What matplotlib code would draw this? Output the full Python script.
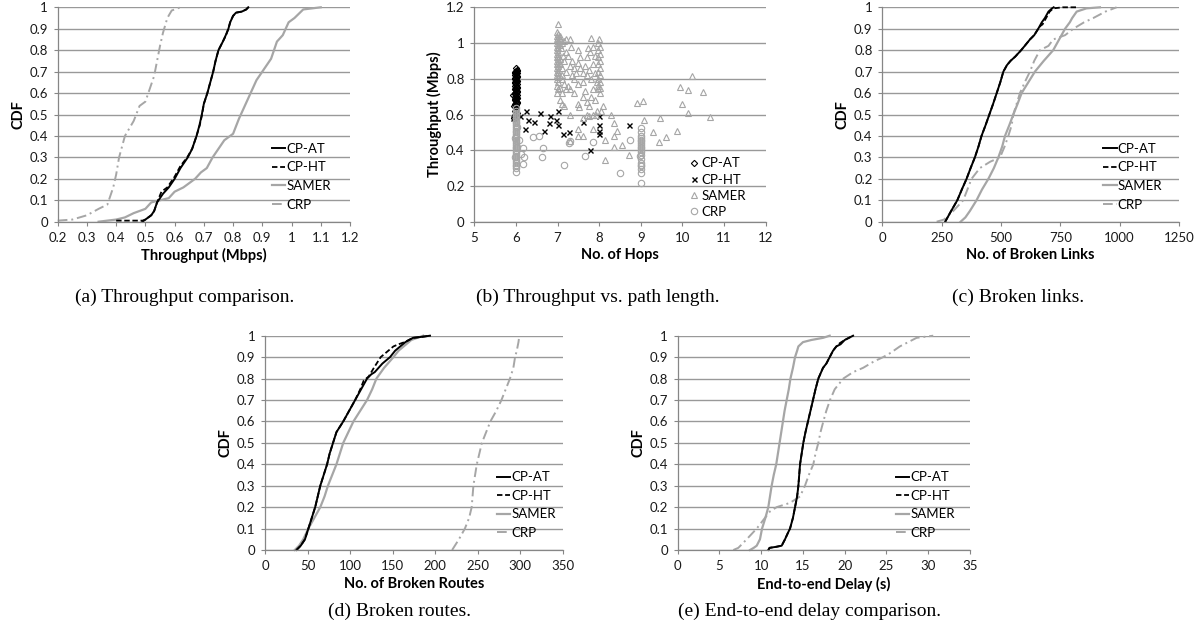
import matplotlib
matplotlib.use("Agg")
import matplotlib.pyplot as plt

BLACK = "black"
GRAY = "#a6a6a6"
GRID = "#999999"
AXIS = "#868686"

plt.rcParams['font.family'] = ['Lato', 'DejaVu Sans']

# ---- (a) throughput CDF ----
thr_at_x = [0.49, 0.50, 0.51, 0.52, 0.53, 0.54, 0.56, 0.58, 0.60, 0.62, 0.645, 0.66, 0.675, 0.685,
            0.693, 0.70, 0.712, 0.722, 0.732, 0.74, 0.75, 0.765, 0.775, 0.784, 0.79, 0.80, 0.81, 0.83,
            0.845, 0.852]
thr_at_y = [0, 0.01, 0.02, 0.03, 0.05, 0.09, 0.13, 0.16, 0.2, 0.25, 0.3, 0.34, 0.4, 0.45, 0.5, 0.55,
            0.6, 0.65, 0.7, 0.75, 0.8, 0.84, 0.87, 0.9, 0.93, 0.96, 0.975, 0.98, 0.99, 1.0]
thr_ht_x = [0.40, 0.45, 0.49, 0.50, 0.51, 0.52, 0.53, 0.54, 0.555, 0.575, 0.60, 0.62, 0.643, 0.66,
            0.675, 0.686, 0.694, 0.70, 0.712, 0.722, 0.732, 0.74, 0.75, 0.765, 0.776, 0.784, 0.79, 0.80,
            0.81, 0.83, 0.845, 0.852]
thr_ht_y = [0.005, 0.005, 0.005, 0.01, 0.02, 0.03, 0.05, 0.09, 0.14, 0.16, 0.21, 0.26, 0.3, 0.34,
            0.4, 0.45, 0.5, 0.55, 0.6, 0.65, 0.7, 0.75, 0.8, 0.84, 0.87, 0.9, 0.93, 0.96, 0.975, 0.98,
            0.99, 1.0]
thr_samer_x = [0.34, 0.40, 0.43, 0.46, 0.48, 0.50, 0.52, 0.55, 0.58, 0.60, 0.63, 0.67, 0.69, 0.71,
               0.73, 0.75, 0.77, 0.80, 0.82, 0.84, 0.86, 0.88, 0.90, 0.93, 0.95, 0.97, 0.99, 1.01,
               1.04, 1.10]
thr_samer_y = [0, 0.01, 0.02, 0.04, 0.05, 0.06, 0.09, 0.1, 0.11, 0.14, 0.16, 0.2, 0.23, 0.25, 0.3,
               0.34, 0.38, 0.41, 0.48, 0.54, 0.6, 0.66, 0.7, 0.76, 0.84, 0.87, 0.93, 0.95, 0.99, 1.0]
thr_crp_x = [0.20, 0.25, 0.30, 0.34, 0.37, 0.38, 0.39, 0.40, 0.41, 0.43, 0.46, 0.48, 0.50, 0.51,
             0.53, 0.54, 0.55, 0.56, 0.575, 0.59, 0.62]
thr_crp_y = [0.005, 0.01, 0.03, 0.06, 0.08, 0.12, 0.16, 0.22, 0.3, 0.4, 0.47, 0.54, 0.56, 0.6,
             0.68, 0.75, 0.82, 0.88, 0.95, 0.985, 1.0]

# ---- (b) throughput vs hops (scatter) ----
hop_at = [(5.92, 0.71), (5.95, 0.65), (5.96, 0.58), (5.97, 0.62), (6.0, 0.63), (6.0, 0.64),
          (5.98, 0.66), (6.02, 0.67), (5.98, 0.68), (6.02, 0.69), (5.98, 0.70), (6.02, 0.71),
          (5.98, 0.72), (6.02, 0.73), (5.98, 0.74), (6.02, 0.75), (5.98, 0.76), (6.02, 0.77),
          (5.98, 0.78), (6.02, 0.79), (5.98, 0.80), (6.02, 0.81), (5.98, 0.82), (6.02, 0.83),
          (5.98, 0.84), (6.02, 0.85), (6.0, 0.86), (6.0, 0.845), (6.0, 0.835), (6.0, 0.825),
          (6.0, 0.815), (6.0, 0.805), (6.0, 0.795), (6.0, 0.785), (6.0, 0.775), (6.0, 0.765),
          (6.0, 0.755), (6.0, 0.745), (6.0, 0.735), (6.0, 0.725), (6.0, 0.715), (6.0, 0.705),
          (6.0, 0.695), (6.0, 0.685), (6.0, 0.675), (6.0, 0.665), (6.0, 0.655), (6.02, 0.61),
          (5.98, 0.60), (6.03, 0.845), (5.97, 0.835), (6.03, 0.815), (5.97, 0.805),
          (6.03, 0.785), (5.97, 0.775), (6.03, 0.755), (5.97, 0.745), (6.03, 0.725),
          (5.97, 0.715), (6.03, 0.695), (5.97, 0.685), (6.03, 0.665), (5.97, 0.655)]
hop_ht = [(5.94, 0.58), (6.1, 0.59), (6.24, 0.62), (6.28, 0.57), (6.22, 0.52), (6.43, 0.56),
          (6.57, 0.61), (6.67, 0.51), (6.8, 0.55), (6.83, 0.59), (6.96, 0.57), (7.0, 0.62),
          (7.02, 0.54), (7.14, 0.49), (7.27, 0.5), (7.6, 0.56), (7.78, 0.4), (8.0, 0.59),
          (8.0, 0.54), (8.0, 0.51), (8.0, 0.49), (8.72, 0.54)]
hop_samer = [(7.0, 1.105), (6.98, 1.06), (7.02, 1.05), (6.98, 1.04), (7.02, 1.03), (6.98, 1.02),
             (7.02, 1.01), (6.98, 1.0), (7.02, 0.99), (6.98, 0.98), (7.02, 0.97), (6.98, 0.96),
             (7.02, 0.95), (6.98, 0.94), (7.02, 0.93), (6.98, 0.92), (7.02, 0.91), (6.98, 0.9),
             (7.02, 0.89), (6.98, 0.88), (7.02, 0.87), (6.98, 0.86), (7.02, 0.85), (6.98, 0.84),
             (7.02, 0.83), (6.98, 0.82), (7.02, 0.81), (6.98, 0.8), (7.02, 0.78), (6.98, 0.76),
             (7.02, 0.74), (6.98, 0.72), (7.05, 1.04), (7.06, 1.02), (7.05, 0.99), (7.07, 0.91),
             (8.0, 1.02), (7.98, 1.0), (8.02, 0.98), (7.98, 0.96), (8.02, 0.94), (7.98, 0.92),
             (8.02, 0.9), (7.98, 0.88), (8.02, 0.86), (7.98, 0.84), (8.02, 0.82), (7.98, 0.8),
             (8.02, 0.78), (7.98, 0.76), (8.02, 0.75), (7.98, 0.74), (8.02, 0.72),
             (7.2, 1.02), (7.3, 1.02), (7.32, 0.98), (7.25, 0.93), (7.15, 0.9), (7.35, 0.9),
             (7.3, 0.87), (7.4, 0.86), (7.2, 0.84), (7.1, 0.82), (7.35, 0.82), (7.4, 0.8),
             (7.5, 0.96), (7.55, 0.92), (7.5, 0.89), (7.55, 0.86), (7.45, 0.83), (7.6, 0.83),
             (7.65, 0.87), (7.7, 0.92), (7.72, 0.97), (7.8, 1.03), (7.78, 0.95), (7.85, 0.98),
             (7.9, 0.93), (7.85, 0.88), (7.75, 0.85), (7.7, 0.82), (7.8, 0.8), (7.9, 0.83),
             (7.95, 0.78), (7.6, 0.78), (7.5, 0.77), (7.4, 0.72), (7.3, 0.74), (7.2, 0.74),
             (7.25, 0.76), (7.15, 0.77), (7.1, 0.72), (7.05, 0.68), (7.1, 0.66), (7.15, 0.65),
             (7.5, 0.66), (7.52, 0.64), (7.6, 0.7), (7.65, 0.73), (7.7, 0.67), (7.75, 0.65),
             (7.8, 0.7), (7.85, 0.74), (7.9, 0.68), (7.95, 0.62), (7.85, 0.6), (7.75, 0.59),
             (7.7, 0.6), (7.6, 0.58), (7.3, 0.6), (7.05, 0.75), (7.1, 0.8), (7.2, 0.95),
             (7.1, 1.0), (7.15, 1.01), (7.08, 0.97), (7.12, 0.93), (7.06, 0.88), (7.1, 0.86),
             (7.3, 0.45), (7.5, 0.52), (7.48, 0.48), (7.62, 0.48), (7.85, 0.52), (7.92, 0.6),
             (8.05, 0.62), (8.1, 0.65), (8.15, 0.455), (8.15, 0.345), (8.28, 0.597), (8.35, 0.55),
             (8.42, 0.51), (8.35, 0.48), (8.35, 0.42), (8.55, 0.43), (8.72, 0.375), (8.92, 0.666),
             (9.05, 0.678), (9.08, 0.569), (9.3, 0.504), (9.44, 0.444), (9.46, 0.579), (9.6, 0.473),
             (9.88, 0.51), (9.94, 0.752), (10.0, 0.659), (10.13, 0.737), (10.13, 0.607),
             (10.22, 0.815), (10.5, 0.728), (10.65, 0.585)]
hop_crp = [(6.0, 0.28), (6.0, 0.30), (6.0, 0.31), (6.0, 0.32), (6.0, 0.33), (6.0, 0.34),
           (6.0, 0.35), (6.0, 0.36), (6.0, 0.37), (6.0, 0.38), (6.0, 0.39), (6.0, 0.40),
           (6.0, 0.41), (6.0, 0.42), (6.0, 0.43), (6.0, 0.44), (6.0, 0.45), (6.0, 0.46),
           (6.0, 0.47), (6.0, 0.48), (6.0, 0.49), (6.0, 0.50), (6.0, 0.51), (6.0, 0.52),
           (6.0, 0.53), (6.0, 0.54), (6.0, 0.55), (6.0, 0.56), (6.0, 0.57), (6.0, 0.58),
           (6.0, 0.59), (6.0, 0.60), (6.0, 0.61), (6.0, 0.62), (6.0, 0.635), (5.98, 0.36),
           (6.02, 0.42), (5.98, 0.47), (6.02, 0.53),
           (6.08, 0.46), (6.12, 0.38), (6.18, 0.415), (6.2, 0.36), (6.17, 0.325), (6.4, 0.475),
           (6.55, 0.48), (6.62, 0.36), (6.65, 0.41), (7.15, 0.32), (7.27, 0.44), (7.3, 0.45),
           (7.65, 0.365), (7.85, 0.445), (8.5, 0.275), (8.75, 0.455),
           (9.0, 0.215), (9.0, 0.27), (9.0, 0.295), (9.0, 0.31), (9.0, 0.32), (9.0, 0.33),
           (9.0, 0.35), (8.97, 0.365), (9.0, 0.375), (9.0, 0.39), (9.0, 0.40), (9.0, 0.41),
           (9.0, 0.42), (9.0, 0.43), (9.0, 0.44), (9.0, 0.45), (9.0, 0.46), (9.0, 0.47),
           (9.0, 0.48), (9.0, 0.50), (9.0, 0.525)]

# ---- (c) broken links CDF ----
bl_at_x = [265, 290, 316, 335, 355, 372, 390, 405, 418, 435, 451, 467, 482, 497, 510, 525, 540,
           560, 585, 600, 622, 640, 657, 672, 685, 700, 715, 722]
bl_at_y = [0, 0.05, 0.1, 0.15, 0.2, 0.25, 0.3, 0.35, 0.4, 0.45, 0.5, 0.55, 0.6, 0.65, 0.7, 0.73,
           0.75, 0.77, 0.8, 0.82, 0.85, 0.87, 0.9, 0.93, 0.95, 0.98, 0.995, 1.0]
bl_ht_x = [265, 290, 316, 335, 355, 372, 390, 405, 418, 435, 451, 467, 482, 497, 510, 525, 540,
           560, 585, 600, 622, 640, 657, 668, 675, 690, 705, 720, 760, 819]
bl_ht_y = [0, 0.05, 0.1, 0.15, 0.2, 0.25, 0.3, 0.35, 0.4, 0.45, 0.5, 0.55, 0.6, 0.65, 0.7, 0.73,
           0.75, 0.77, 0.8, 0.82, 0.85, 0.87, 0.9, 0.915, 0.92, 0.95, 0.98, 0.995, 1.0, 1.0]
bl_samer_x = [330, 350, 369, 397, 420, 447, 470, 489, 505, 517, 535, 552, 570, 587, 615, 643,
              680, 720, 745, 770, 790, 800, 819, 860, 917]
bl_samer_y = [0, 0.02, 0.05, 0.1, 0.15, 0.2, 0.25, 0.3, 0.35, 0.4, 0.45, 0.5, 0.55, 0.6, 0.65,
              0.7, 0.75, 0.8, 0.85, 0.9, 0.93, 0.95, 0.98, 0.995, 1.0]
bl_crp_x = [229, 260, 299, 341, 376, 411, 455, 496, 515, 531, 545, 552, 580, 600, 622, 640, 664,
            700, 720, 770, 805, 850, 889, 940, 987]
bl_crp_y = [0, 0.01, 0.05, 0.1, 0.2, 0.25, 0.28, 0.3, 0.35, 0.4, 0.45, 0.5, 0.6, 0.65, 0.7, 0.75,
            0.8, 0.82, 0.85, 0.87, 0.9, 0.93, 0.95, 0.98, 1.0]

# ---- (d) broken routes CDF ----
br_at_x = [37, 42, 47, 51, 55, 59, 62, 65, 69, 73, 76, 80, 84, 92, 99, 106, 113, 120, 125, 129,
           138, 147, 153, 159, 165, 174, 185, 194]
br_at_y = [0, 0.02, 0.05, 0.1, 0.15, 0.2, 0.25, 0.3, 0.35, 0.4, 0.45, 0.5, 0.55, 0.6, 0.65, 0.7,
           0.75, 0.8, 0.82, 0.83, 0.87, 0.9, 0.93, 0.95, 0.97, 0.99, 0.995, 1.0]
br_ht_x = [37, 42, 47, 51, 55, 59, 62, 65, 69, 73, 76, 80, 84, 92, 99, 106, 112, 116, 122, 128,
           136, 145, 151, 157, 164, 174, 185, 194]
br_ht_y = [0, 0.02, 0.05, 0.1, 0.15, 0.2, 0.25, 0.3, 0.35, 0.4, 0.45, 0.5, 0.55, 0.6, 0.65, 0.7,
           0.75, 0.79, 0.81, 0.85, 0.9, 0.93, 0.95, 0.96, 0.97, 0.99, 0.995, 1.0]
br_samer_x = [35, 40, 45, 51, 58, 65, 70, 74, 79, 84, 88, 92, 98, 104, 112, 120, 126, 131, 140,
              151, 157, 163, 172, 186]
br_samer_y = [0, 0.02, 0.05, 0.1, 0.15, 0.2, 0.25, 0.3, 0.35, 0.4, 0.45, 0.5, 0.55, 0.6, 0.65,
              0.7, 0.75, 0.8, 0.85, 0.9, 0.93, 0.95, 0.98, 1.0]
br_crp_x = [220, 228, 235, 240, 243, 245, 249, 252, 255, 260, 265, 272, 278, 283, 288, 292, 294,
            296, 298, 299]
br_crp_y = [0, 0.05, 0.1, 0.15, 0.2, 0.3, 0.4, 0.45, 0.5, 0.55, 0.6, 0.65, 0.7, 0.75, 0.8, 0.85,
            0.9, 0.93, 0.97, 1.0]

# ---- (e) end-to-end delay CDF ----
dl_at_x = [10.85, 11.0, 11.8, 12.45, 12.85, 13.2, 13.45, 13.8, 14.05, 14.3, 14.45, 14.65, 15.04,
           15.3, 15.6, 16.2, 16.5, 16.84, 17.4, 17.8, 18.2, 18.6, 19.0, 19.5, 20.0, 20.5, 21.0]
dl_at_y = [0, 0.01, 0.015, 0.02, 0.05, 0.08, 0.1, 0.15, 0.2, 0.25, 0.3, 0.4, 0.5, 0.55, 0.6, 0.7,
           0.75, 0.8, 0.85, 0.87, 0.9, 0.93, 0.95, 0.96, 0.98, 0.99, 1.0]
dl_ht_x = [10.85, 11.0, 11.8, 12.45, 12.85, 13.2, 13.45, 13.8, 14.05, 14.3, 14.45, 14.65, 15.04,
           15.3, 15.6, 16.2, 16.5, 16.84, 17.4, 17.8, 18.2, 18.6, 19.0, 19.4, 20.0, 20.5, 21.0]
dl_ht_y = [0, 0.01, 0.015, 0.02, 0.05, 0.08, 0.1, 0.15, 0.2, 0.25, 0.3, 0.4, 0.5, 0.55, 0.6, 0.7,
           0.75, 0.8, 0.85, 0.87, 0.9, 0.93, 0.95, 0.965, 0.98, 0.99, 1.0]
dl_samer_x = [8.66, 9.1, 9.46, 9.85, 10.1, 10.5, 10.85, 11.05, 11.25, 11.5, 11.8, 12.0, 12.2, 12.4,
              12.6, 12.8, 13.05, 13.3, 13.5, 13.8, 14.05, 14.3, 14.45, 15.0, 16.0, 17.4, 18.2]
dl_samer_y = [0, 0.01, 0.02, 0.05, 0.1, 0.15, 0.2, 0.25, 0.3, 0.35, 0.4, 0.45, 0.5, 0.55, 0.6,
              0.65, 0.7, 0.75, 0.8, 0.85, 0.9, 0.93, 0.95, 0.97, 0.98, 0.99, 1.0]
dl_crp_x = [6.66, 7.26, 8.26, 9.46, 10.45, 11.05, 11.85, 13.45, 14.65, 15.24, 15.7, 16.24, 16.5,
            16.84, 17.1, 17.44, 17.8, 18.24, 18.8, 19.83, 21.0, 22.2, 23.5, 24.6, 25.5, 26.6, 28.6,
            30.6]
dl_crp_y = [0, 0.01, 0.05, 0.1, 0.15, 0.18, 0.2, 0.22, 0.25, 0.3, 0.35, 0.4, 0.45, 0.5, 0.55, 0.6,
            0.65, 0.7, 0.75, 0.8, 0.83, 0.85, 0.88, 0.9, 0.92, 0.95, 0.99, 1.0]

labels = ["CP-AT", "CP-HT", "SAMER", "CRP"]
cdf_ticks = [i / 10 for i in range(11)]
cdf_ticklabels = ["0", "0.1", "0.2", "0.3", "0.4", "0.5", "0.6", "0.7", "0.8", "0.9", "1"]

W, H = 1198, 642
fig = plt.figure(figsize=(W / 100, H / 100), dpi=100)


def box(x0, y0, x1, y1):
    # pixel box (left, top, right, bottom) -> figure fraction
    return [x0 / W, 1 - y1 / H, (x1 - x0) / W, (y1 - y0) / H]


def style(ax, xlim, xticks, xticklabels, ylim, yticks, yticklabels, xlabel, ylabel):
    ax.set_xlim(*xlim)
    ax.set_ylim(*ylim)
    ax.set_xticks(xticks)
    ax.set_xticklabels(xticklabels)
    ax.set_yticks(yticks)
    ax.set_yticklabels(yticklabels)
    ax.grid(axis='y', color=GRID, lw=1.0)
    ax.set_axisbelow(True)
    for s in ['top', 'right']:
        ax.spines[s].set_visible(False)
    for s in ['left', 'bottom']:
        ax.spines[s].set_color(AXIS)
        ax.spines[s].set_linewidth(0.9)
    ax.tick_params(color=AXIS, labelcolor='#1a1a1a', length=3, width=0.8, labelsize=9.5)
    ax.tick_params(axis='x', pad=4.5)
    ax.tick_params(axis='y', pad=4)
    ax.set_xlabel(xlabel, fontsize=10.5, fontweight='bold', labelpad=3)
    ax.set_ylabel(ylabel, fontsize=10.5, fontweight='bold', labelpad=3)


def cdf_panel(rect, at, ht, samer, crp, xlim, xticks, xticklabels, xlabel, leg_anchor):
    ax = fig.add_axes(rect)
    ax.plot(*samer, color=GRAY, lw=1.6, clip_on=False, label=labels[2])
    ax.plot(*crp, color=GRAY, lw=1.4, ls=(0, (5, 2, 1, 2)), clip_on=False, label=labels[3])
    ax.plot(*ht, color=BLACK, lw=1.3, ls=(0, (3, 1.5)), clip_on=False, label=labels[1])
    ax.plot(*at, color=BLACK, lw=1.4, clip_on=False, label=labels[0])
    style(ax, xlim, xticks, xticklabels, (0, 1), cdf_ticks, cdf_ticklabels, xlabel, "CDF")
    h, l = ax.get_legend_handles_labels()
    order = [3, 2, 0, 1]
    ax.legend([h[i] for i in order], [l[i] for i in order], loc='upper left',
              bbox_to_anchor=leg_anchor, frameon=False, fontsize=9.5, handlelength=1.0,
              handletextpad=0.1, labelspacing=0.5, borderpad=0, borderaxespad=0)
    return ax


# (a)
cdf_panel(box(57.7, 7.3, 350, 221.7), (thr_at_x, thr_at_y), (thr_ht_x, thr_ht_y),
          (thr_samer_x, thr_samer_y), (thr_crp_x, thr_crp_y), (0.2, 1.2),
          [0.2, 0.3, 0.4, 0.5, 0.6, 0.7, 0.8, 0.9, 1.0, 1.1, 1.2],
          ["0.2", "0.3", "0.4", "0.5", "0.6", "0.7", "0.8", "0.9", "1", "1.1", "1.2"],
          "Throughput (Mbps)", (0.733, 0.368))

# (b)
axb = fig.add_axes(box(474.3, 7.3, 765.7, 221.7))
axb.plot([p[0] for p in hop_at], [p[1] for p in hop_at], ls='none', marker='D', ms=3.2,
         mfc='none', mec=BLACK, mew=0.8, label=labels[0])
axb.plot([p[0] for p in hop_ht], [p[1] for p in hop_ht], ls='none', marker='x', ms=3.6,
         mec=BLACK, mew=1.0, label=labels[1])
axb.plot([p[0] for p in hop_samer], [p[1] for p in hop_samer], ls='none', marker='^', ms=4.8,
         mfc='none', mec=GRAY, mew=0.8, label=labels[2])
axb.plot([p[0] for p in hop_crp], [p[1] for p in hop_crp], ls='none', marker='o', ms=4.6,
         mfc='none', mec=GRAY, mew=0.8, label=labels[3])
style(axb, (5, 12), [5, 6, 7, 8, 9, 10, 11, 12], ["5", "6", "7", "8", "9", "10", "11", "12"],
      (0, 1.2), [0, 0.2, 0.4, 0.6, 0.8, 1.0, 1.2], ["0", "0.2", "0.4", "0.6", "0.8", "1", "1.2"],
      "No. of Hops", "Throughput (Mbps)")
axb.legend(loc='upper left', bbox_to_anchor=(0.742, 0.30), frameon=False, fontsize=9.5,
           handlelength=0.5, handletextpad=0.35, labelspacing=0.32, borderpad=0, borderaxespad=0)

# (c)
cdf_panel(box(882.3, 7.3, 1179, 221.7), (bl_at_x, bl_at_y), (bl_ht_x, bl_ht_y),
          (bl_samer_x, bl_samer_y), (bl_crp_x, bl_crp_y), (0, 1250),
          [0, 250, 500, 750, 1000, 1250], ["0", "250", "500", "750", "1000", "1250"],
          "No. of Broken Links", (0.745, 0.368))

# (d)
cdf_panel(box(265, 335.7, 562.7, 550), (br_at_x, br_at_y), (br_ht_x, br_ht_y),
          (br_samer_x, br_samer_y), (br_crp_x, br_crp_y), (0, 350),
          [0, 50, 100, 150, 200, 250, 300, 350],
          ["0", "50", "100", "150", "200", "250", "300", "350"],
          "No. of Broken Routes", (0.778, 0.368))

# (e)
cdf_panel(box(677.7, 335.7, 970, 550), (dl_at_x, dl_at_y), (dl_ht_x, dl_ht_y),
          (dl_samer_x, dl_samer_y), (dl_crp_x, dl_crp_y), (0, 35),
          [0, 5, 10, 15, 20, 25, 30, 35], ["0", "5", "10", "15", "20", "25", "30", "35"],
          "End-to-end Delay (s)", (0.747, 0.368))

captions = ["(a) Throughput comparison.", "(b) Throughput vs. path length.",
            "(c) Broken links.", "(d) Broken routes.", "(e) End-to-end delay comparison."]
cap_pos = [(185, 297), (598, 297), (1018, 297), (399, 611), (809, 611)]
for txt, (cx, cy) in zip(captions, cap_pos):
    fig.text(cx / W, 1 - cy / H, txt, ha='center', va='center', fontsize=14,
             family=['Liberation Serif', 'DejaVu Serif'])

fig.savefig("out.png", dpi=100)
